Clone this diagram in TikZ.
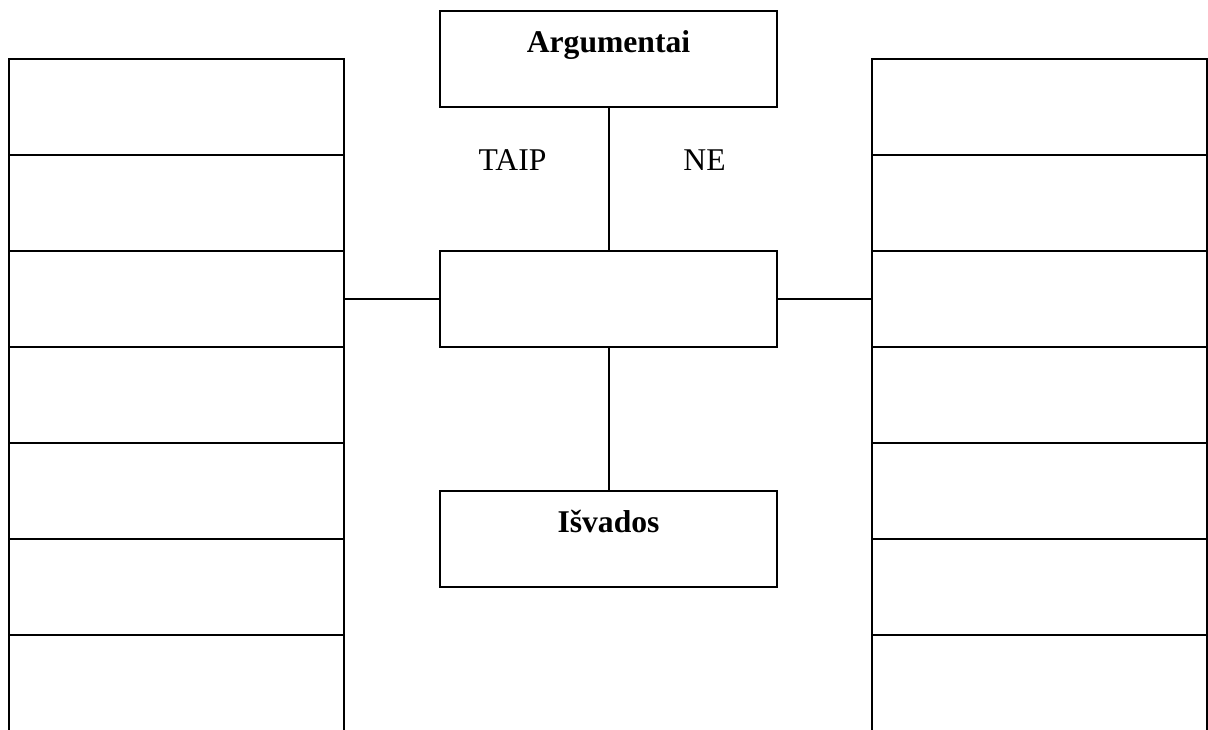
\documentclass[tikz,border=0pt]{standalone}
\usepackage{fontspec}
\setmainfont{Liberation Serif}

\tikzset{
    cell/.style = {draw, minimum width=10.05cm, minimum height=2.88cm, inner sep=0pt},
    box/.style = {draw, minimum width=10.11cm, minimum height=2.88cm, inner sep=0pt},
    title/.style = {anchor=base, yshift=-1.26cm, font=\fontsize{27}{32}\selectfont\bfseries},
}

\begin{document}
\begin{tikzpicture}[x=0.03cm, y=-0.03cm, line width=1.7pt, font=\fontsize{27}{32}\selectfont]
\useasboundingbox (0,0) rectangle (1208,729);
\clip (0,0) rectangle (1208,729);
\foreach \i in {1,...,7} {
    \node[cell] (L\i) at (176.5, {107+96*(\i-1)}) {};
    \node[cell] (R\i) at (1039.5, {107+96*(\i-1)}) {};
}
\node[box, label={[title]north:Argumentai}] (arg) at (608.5,59) {};
\node[box] (mid) at (608.5,299) {};
\node[box, label={[title]north:Išvados}] (res) at (608.5,539) {};
%% lines between the boxes
\draw (arg) -- (mid)
    node[pos=0.37, xshift=-2.88cm] {TAIP}
    node[pos=0.37, xshift=2.88cm] {NE};
\draw (L3) -- (mid);
\draw (mid) -- (R3);
\draw (mid) -- (res);
\end{tikzpicture}
\end{document}
